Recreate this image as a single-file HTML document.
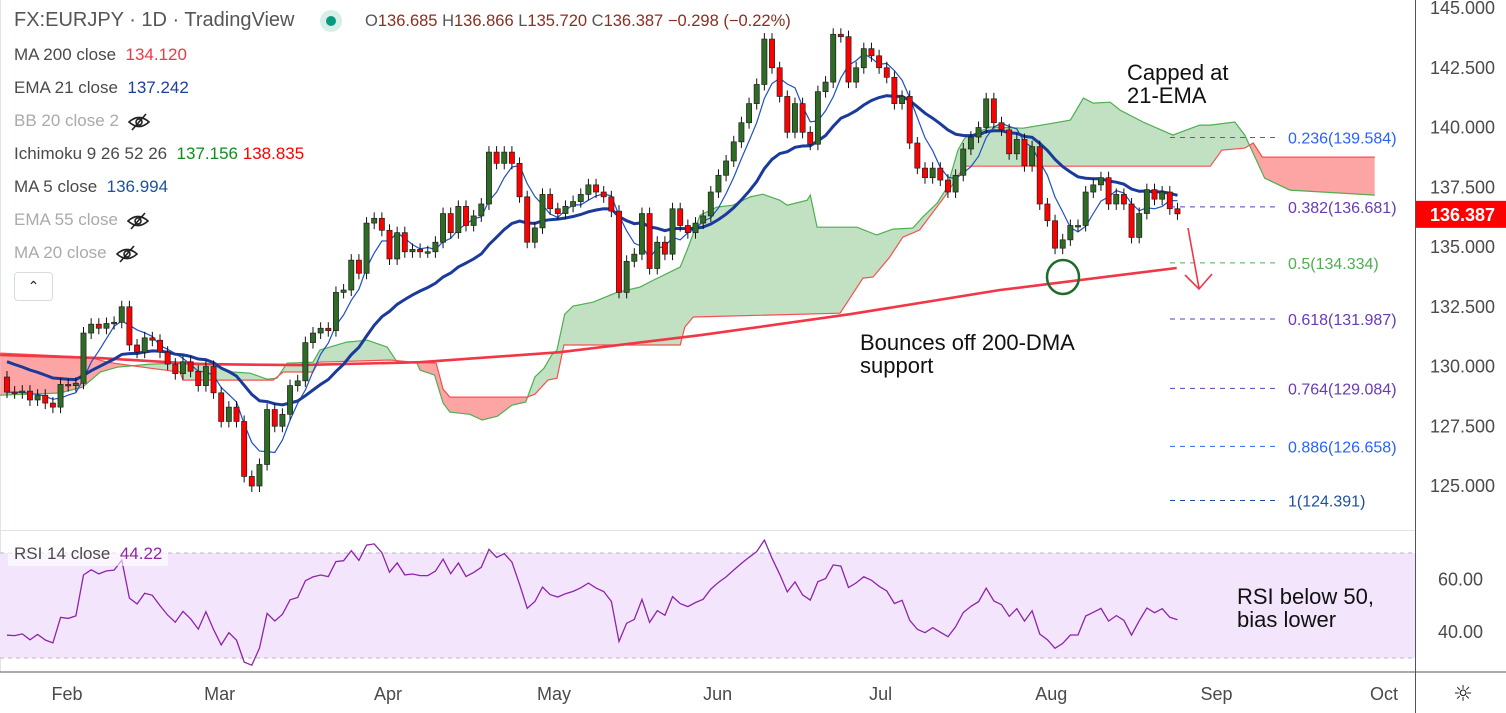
<!DOCTYPE html>
<html><head><meta charset="utf-8">
<style>
html,body{margin:0;padding:0;background:#fff;}
body{width:1506px;height:713px;overflow:hidden;position:relative;font-family:"Liberation Sans",sans-serif;}
.lg{position:absolute;left:14px;font-size:17px;color:#4a4a4a;white-space:nowrap;}
.ann{position:absolute;font-size:22px;color:#111;line-height:23px;}
.eye{display:inline-block;vertical-align:middle;margin-left:8px;}
</style></head>
<body>
<svg id="chart" width="1506" height="713" style="position:absolute;left:0;top:0"></svg>

<div class="lg" style="top:9px;font-size:20px;color:#555">FX:EURJPY · 1D · TradingView</div>
<div style="position:absolute;left:320px;top:10px;width:22px;height:22px;border-radius:50%;background:#d7eee9"><div style="position:absolute;left:6px;top:6px;width:10px;height:10px;border-radius:50%;background:#089981"></div></div>
<div class="lg" style="left:365px;top:12px;font-size:16.5px;color:#555">O<span style="color:#8b2e22">136.685</span> H<span style="color:#8b2e22">136.866</span> L<span style="color:#8b2e22">135.720</span> C<span style="color:#8b2e22">136.387</span> <span style="color:#8b2e22">−0.298 (−0.22%)</span></div>
<div class="lg" style="top:45px">MA 200 close &nbsp;<span style="color:#f23645">134.120</span></div>
<div class="lg" style="top:78px">EMA 21 close &nbsp;<span style="color:#1e3f9a">137.242</span></div>
<div class="lg" style="top:111px;color:#aaa">BB 20 close 2<svg class="eye" width="24" height="18" viewBox="0 0 24 18"><path d="M2,9 Q12,0 22,9 Q12,18 2,9Z" fill="none" stroke="#222" stroke-width="1.6"/><circle cx="12" cy="9" r="3" fill="none" stroke="#222" stroke-width="1.6"/><line x1="5" y1="17" x2="19" y2="1" stroke="#222" stroke-width="1.6"/></svg></div>
<div class="lg" style="top:144px">Ichimoku 9 26 52 26 &nbsp;<span style="color:#138a1e">137.156</span> <span style="color:#f00">138.835</span></div>
<div class="lg" style="top:177px">MA 5 close &nbsp;<span style="color:#1e50a0">136.994</span></div>
<div class="lg" style="top:210px;color:#aaa">EMA 55 close<svg class="eye" width="24" height="18" viewBox="0 0 24 18"><path d="M2,9 Q12,0 22,9 Q12,18 2,9Z" fill="none" stroke="#222" stroke-width="1.6"/><circle cx="12" cy="9" r="3" fill="none" stroke="#222" stroke-width="1.6"/><line x1="5" y1="17" x2="19" y2="1" stroke="#222" stroke-width="1.6"/></svg></div>
<div class="lg" style="top:243px;color:#aaa">MA 20 close<svg class="eye" width="24" height="18" viewBox="0 0 24 18"><path d="M2,9 Q12,0 22,9 Q12,18 2,9Z" fill="none" stroke="#222" stroke-width="1.6"/><circle cx="12" cy="9" r="3" fill="none" stroke="#222" stroke-width="1.6"/><line x1="5" y1="17" x2="19" y2="1" stroke="#222" stroke-width="1.6"/></svg></div>
<div style="position:absolute;left:14px;top:272px;width:37px;height:27px;border:1px solid #d8dbe2;border-radius:4px;text-align:center;font-size:14px;line-height:27px;color:#222">⌃</div>

<div class="ann" style="left:1127px;top:61px">Capped at<br>21-EMA</div>
<div class="ann" style="left:860px;top:331px">Bounces off 200-DMA<br>support</div>
<div class="ann" style="left:1237px;top:585px">RSI below 50,<br>bias lower</div>
<div style="position:absolute;left:8px;top:541px;width:160px;height:25px;background:rgba(255,255,255,0.6)"><span style="position:absolute;left:6px;top:3px;font-size:17px;color:#4a4a4a;white-space:nowrap">RSI 14 close &nbsp;<span style="color:#8e24aa">44.22</span></span></div>

<script>
const closes=[128.93,128.9,128.97,128.6,128.8,128.47,128.3,129.25,129.2,129.3,131.4,131.77,131.6,131.8,131.85,132.5,130.9,130.6,131.2,131.1,130.6,130.1,129.7,130.2,129.8,129.2,130.0,128.9,127.7,128.3,127.7,125.4,125.0,125.9,128.2,127.5,128.0,129.2,129.4,131.0,131.4,131.6,131.5,133.1,133.2,134.45,133.9,136.0,136.2,135.7,134.5,135.6,134.8,134.9,134.8,134.8,135.2,136.4,
135.6,136.7,135.9,136.3,136.8,138.97,138.5,138.97,138.5,137.1,135.2,135.8,137.2,136.6,136.4,136.7,136.9,137.2,137.6,137.3,137.1,136.5,133.1,134.4,134.7,136.4,134.1,135.2,134.7,136.6,135.9,135.6,136.0,136.3,137.3,138.0,138.6,139.4,140.2,141.0,141.8,143.7,142.5,141.3,139.8,141.0,139.8,139.3,141.5,141.9,143.9,143.8,141.9,142.5,143.3,143.0,142.5,142.1,141.0,141.3,139.35,138.3,
137.9,138.3,137.8,137.3,138.0,139.1,139.6,140.0,141.2,140.2,139.9,138.9,139.5,138.4,139.2,136.8,136.1,134.95,135.3,135.9,135.9,137.3,137.6,137.9,136.8,137.2,136.8,135.4,136.4,137.4,137.0,137.3,136.6,136.387];
const firstOpen=129.56;
const ma200Idx=[-0.9,12.2,25.2,38.3,54,72.3,90.6,110.2,129.8,152.9];
const ma200Val=[130.48,130.35,130.1,130.06,130.18,130.6,131.31,132.19,133.2,134.12];
const spanAIdx=[-0.9,6.9,9.9,12.2,14.4,18.7,22.6,26.1,29.5,31.8,34.0,35.3,36.6,40.0,40.9,44.4,47.1,49.7,51.0,53.6,54.0,55.9,57.0,57.9,60.5,62.1,64.1,66.0,67.8,69.0,70.2,71.2,71.9,72.9,74.0,76.6,79.7,82.7,84.4,88.0,88.9,90.6,92.8,94.9,97.1,98.8,101.0,102.0,104.6,105.0,105.9,111.1,113.7,115.8,118.4,119.7,121.6,122.9,124.3,125.2,128.5,132.8,136.7,139.0,140.7,142.0,144.2,145.5,148.5,152.4,155.9,157.3,160.5,161.8,164.4,167.7,178.8];
const spanAVal=[128.8,128.89,129.14,129.77,129.97,130.1,130.14,130.14,129.77,129.72,129.47,129.51,130.14,130.18,130.69,131.02,131.1,130.81,130.18,130.14,129.85,129.64,128.47,128.09,128.0,127.76,127.92,128.38,128.51,129.56,129.93,130.48,130.69,132.19,132.53,132.69,133.1,133.32,133.6,134.16,134.87,136.33,136.67,136.75,137.09,137.21,136.96,136.75,136.96,137.17,135.83,135.83,135.5,135.75,135.79,136.25,136.84,137.5,139.05,139.56,140.02,139.97,140.18,140.31,141.23,141.02,141.06,140.73,140.23,139.68,140.1,140.1,140.23,139.68,137.88,137.38,137.17];
const spanBIdx=[-0.9,10.8,13.1,18.7,22.6,23.0,34.8,36.1,40.0,40.7,50.1,53.1,56.1,57.0,57.9,68.0,69.0,70.7,71.9,72.8,88.0,88.6,89.7,108.9,111.9,113.2,115.4,117.1,119.3,122.9,124.2,125.2,157.3,158.8,161.8,162.9,164.1,178.8];
const spanBVal=[130.56,130.39,130.18,129.93,129.77,129.43,129.43,129.77,129.77,130.18,130.27,130.18,130.14,129.05,128.72,128.72,128.84,129.43,129.51,130.9,130.9,131.65,132.07,132.23,133.7,133.74,134.58,135.41,135.71,137.25,137.92,138.38,138.38,139.05,139.14,139.35,138.76,138.76];
const fibLevels=["0.236","0.382","0.5","0.618","0.764","0.886","1"];
const fibPrices=[139.584,136.681,134.334,131.987,129.084,126.658,124.391];
const fibColors=["#2962ff","#673ab7","#4caf50","#673ab7","#673ab7","#2962ff","#1e50a0"];
const priceTicks=[145,142.5,140,137.5,135,132.5,130,127.5,125];
const rsiTicks=[60,40];
const monthLabels=["Feb","Mar","Apr","May","Jun","Jul","Aug","Sep","Oct"];
const monthIdx=[7.84,27.8,49.8,71.5,92.9,114.2,136.5,158.1,180];

const NS="http://www.w3.org/2000/svg";
const svg=document.getElementById('chart');
const X=i=>7+i*7.65;
const Y=p=>8+(145-p)*23.9;
const RY=v=>553+(70-v)*2.625;
function el(tag,attrs,parent){const e=document.createElementNS(NS,tag);for(const k in attrs)e.setAttribute(k,attrs[k]);(parent||svg).appendChild(e);return e;}
function pts(ix,vals,yf){return ix.map((i,k)=>X(i).toFixed(1)+','+yf(vals[k]).toFixed(1)).join(' ');}
const FONT='Liberation Sans, sans-serif';

const defs=el('defs',{});
const cp=el('clipPath',{id:'mainclip'},defs);el('rect',{x:0,y:0,width:1415,height:530},cp);
const ax=el('clipPath',{id:'aboveB'},defs);
el('polygon',{points:pts(spanBIdx,spanBVal,Y)+` ${X(178.8)},0 ${X(-0.9)},0`},ax);
const aa=el('clipPath',{id:'aboveA'},defs);
el('polygon',{points:pts(spanAIdx,spanAVal,Y)+` ${X(178.8)},0 ${X(-0.9)},0`},aa);

let g=el('line',{x1:0.5,y1:0,x2:0.5,y2:672,stroke:'#e0e3eb'});


const main=el('g',{'clip-path':'url(#mainclip)'});



let gf=el('polygon',{points:pts(spanAIdx,spanAVal,Y)+` ${X(178.8)},600 ${X(-0.9)},600`,fill:'#c2e0c2','clip-path':'url(#aboveB)'},main);

let rf=el('polygon',{points:pts(spanBIdx,spanBVal,Y)+` ${X(178.8)},600 ${X(-0.9)},600`,fill:'#fda5a5','clip-path':'url(#aboveA)'},main);

let la=el('polyline',{points:pts(spanAIdx,spanAVal,Y),fill:'none',stroke:'#4caf50','stroke-width':1.2},main);

let lb=el('polyline',{points:pts(spanBIdx,spanBVal,Y),fill:'none',stroke:'#f55050','stroke-width':1.2},main);


let m2=el('polyline',{points:pts(ma200Idx,ma200Val,Y),fill:'none',stroke:'#f23645','stroke-width':2.6},main);


const idx=closes.map((c,i)=>i);
const ema=[];let e=130.2;const k=2/22;
closes.forEach((c,i)=>{e=i===0?130.2:c*k+e*(1-k);ema.push(e);});
const ma5=closes.map((c,i)=>{const s=closes.slice(Math.max(0,i-4),i+1);return s.reduce((a,b)=>a+b,0)/s.length;});
let ml=el('polyline',{points:pts(idx,ma5,Y),fill:'none',stroke:'#1e50c8','stroke-width':1.2},main);

let el21=el('polyline',{points:pts(idx,ema,Y),fill:'none',stroke:'#1a3a9c','stroke-width':3},main);


closes.forEach((c,i)=>{
  const o=i===0?firstOpen:closes[i-1];
  const up=c>=o;const x=X(i);
  const top=Y(Math.max(o,c)),bot=Y(Math.min(o,c));
  const w=el('line',{x1:x,y1:top-6,x2:x,y2:bot+6,stroke:'#111','stroke-width':1},main);
  
  
  const b=el('rect',{x:x-2.6,y:top,width:5.2,height:Math.max(1.5,bot-top),fill:up?'#2e6b24':'#ff0000',stroke:'#222','stroke-width':0.7},main);
  
  
});

fibLevels.forEach((lv,i)=>{
  const y=Y(fibPrices[i]);
  const l=el('line',{x1:1170,y1:y,x2:1275,y2:y,stroke:fibColors[i],'stroke-dasharray':'5,5','stroke-width':1},main);
  
  
  const t=el('text',{x:1288,y:y+6,fill:fibColors[i],'font-size':16,'font-family':FONT},main);
  t.textContent=lv+'('+fibPrices[i].toFixed(3)+')';
  
  
});

let circ=el('ellipse',{cx:1063,cy:277,rx:16,ry:17,fill:'none',stroke:'#1e6b2a','stroke-width':2.5},main);

let ar=el('path',{d:'M1188,228 L1199,288 M1185,275 L1199,289 L1212,274',fill:'none',stroke:'#f23645','stroke-width':1.6});

let ar2=el('path',{d:'M1207,582 L1213,640 M1199,626 L1213,640 L1226,624',fill:'none',stroke:'#f23645','stroke-width':1.6});


let pa=el('line',{x1:1415.5,y1:0,x2:1415.5,y2:713,stroke:'#555','stroke-width':1});

priceTicks.forEach(p=>{
  const t=el('text',{x:1430,y:Y(p)+6,fill:'#4a4a4a','font-size':18,'font-family':FONT});
  t.textContent=p.toFixed(3);
  
  
});
const last=closes[closes.length-1];
let tag=el('rect',{x:1416,y:Y(last)-13,width:90,height:27,fill:'#f00'});

let tt=el('text',{x:1430,y:Y(last)+7,fill:'#fff','font-size':18,'font-weight':'bold','font-family':FONT});
tt.textContent=last.toFixed(3);


let sep=el('line',{x1:0,y1:530.5,x2:1415,y2:530.5,stroke:'#e0e3eb'});

let band=el('rect',{x:0,y:RY(70),width:1415,height:RY(30)-RY(70),fill:'#f3e6fc'});

[70,30].forEach(v=>{const l=el('line',{x1:0,y1:RY(v),x2:1415,y2:RY(v),stroke:'#b8b8c0','stroke-dasharray':'4,4'});

});
let rb=el('line',{x1:0,y1:672,x2:1506,y2:672,stroke:'#555'});

const rsi=[];let ag=0.22,al=0.3;
closes.forEach((c,i)=>{const prev=i===0?firstOpen:closes[i-1];const d=c-prev;
  ag=(ag*13+Math.max(d,0))/14;al=(al*13+Math.max(-d,0))/14;rsi.push(100-100/(1+ag/al));});
let rl=el('polyline',{points:pts(idx,rsi,RY),fill:'none',stroke:'#8e24aa','stroke-width':1.3});

rsiTicks.forEach(v=>{const t=el('text',{x:1438,y:RY(v)+6,fill:'#4a4a4a','font-size':18,'font-family':FONT});
t.textContent=v.toFixed(2);

});

monthLabels.forEach((m,i)=>{const t=el('text',{x:X(monthIdx[i]),y:700,fill:'#4a4a4a','font-size':18,'text-anchor':'middle','font-family':FONT});
t.textContent=m;

});
let gear=el('text',{x:1463,y:701,fill:'#222','font-size':22,'text-anchor':'middle','font-family':'DejaVu Sans, sans-serif'});
gear.textContent='☼';

</script>
</body></html>
